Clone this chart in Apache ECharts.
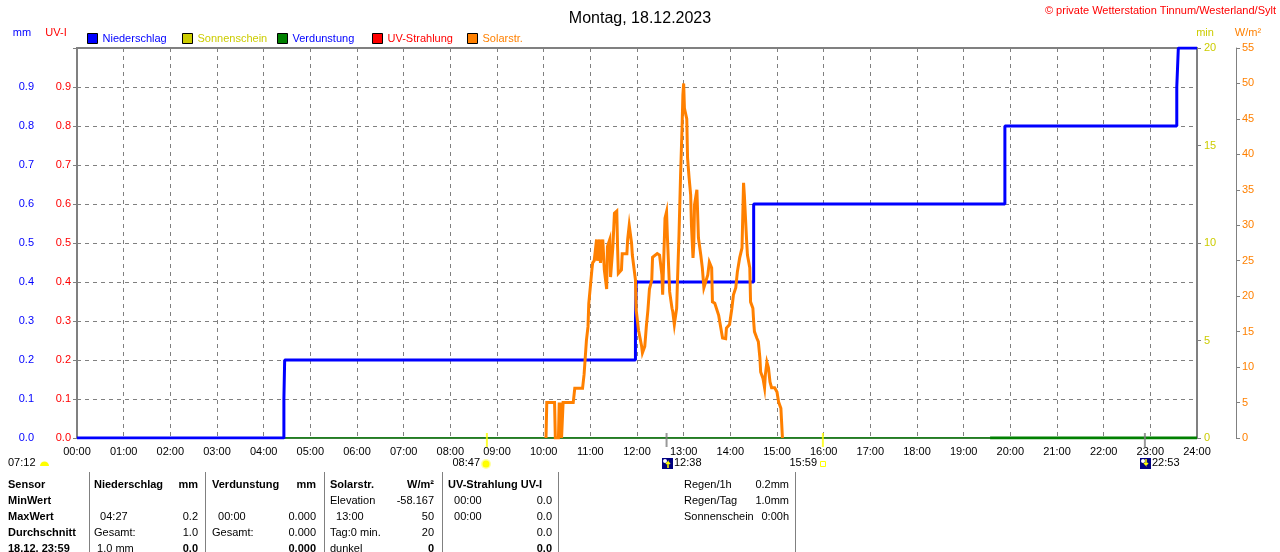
<!DOCTYPE html>
<html>
<head>
<meta charset="utf-8">
<title>Wetterstation Tinnum - 18.12.2023</title>
<script src="https://cdn.jsdelivr.net/npm/echarts@6/dist/echarts.min.js"></script>
<style>
  html, body { margin: 0; padding: 0; background: #fff; }
  #wetter { width: 1280px; height: 552px; }
</style>
</head>
<body>
<div id="wetter"></div>
<script>
var FONT = '"Liberation Sans", Arial, sans-serif';

// Niederschlag (mm), Zeit in Minuten ab 00:00
var rainTime  = [0, 266, 267, 718, 719, 870, 1193, 1414, 1416, 1440];
var rainValue = [0, 0.1, 0.2, 0.3, 0.4, 0.6, 0.8, 0.9, 1.0, 1.0];

// Verdunstung (mm)
var evapTime  = [0, 1440];
var evapValue = [0, 0];
var evapBoldTime  = [1174, 1440];
var evapBoldValue = [0, 0];

// Solarstrahlung (W/m²)
var solarTime = [
  603, 604, 614, 615, 619, 620, 621, 622, 623, 624,
  625, 638, 640, 650, 652, 655, 657, 658, 660, 662,
  663, 665, 668, 669, 672, 673, 676, 678, 681, 682,
  685, 686, 689, 691, 694, 695, 696, 700, 701, 707,
  708, 710, 713, 714, 718, 719, 722, 726, 727, 730,
  732, 734, 736, 739, 740, 746, 749, 752, 753, 756,
  758, 759, 762, 765, 766, 768, 771, 772, 774, 776,
  778, 779, 780, 781, 784, 785, 787, 789, 790, 792,
  793, 794, 797, 798, 799, 802, 804, 806, 808, 811,
  813, 816, 817, 820, 822, 825, 827, 830, 834, 835,
  839, 842, 844, 847, 849, 852, 855, 856, 857, 858,
  861, 862, 865, 866, 869, 870, 871, 874, 876, 878,
  879, 882, 884, 885, 887, 889, 891, 893, 897, 900,
  902, 905, 906, 907
];
var solarValue = [
  0, 5, 5, 0, 0, 5, 1.5, 5, 0, 0,
  5, 5, 7, 7, 9, 13.8, 15.7, 19, 21.3, 23.7,
  24.7, 25, 28, 25, 28, 24.7, 28, 23.7, 21, 27,
  28, 22.7, 27, 31.7, 32, 27, 23.2, 23.7, 26, 26,
  28, 30, 27.5, 25.8, 22.3, 18, 15.2, 12.9, 12, 12.9,
  15.7, 18, 21, 22.3, 25.5, 26, 25.8, 23, 20.2, 31,
  31.9, 28.6, 20.6, 18.3, 17.8, 16, 18.3, 22, 28.6, 37,
  44, 48.4, 50, 46.5, 45, 39.5, 36.7, 34.3, 30, 25.4,
  27.2, 32.9, 35, 35, 28.2, 25.8, 24, 21.2, 21.2, 23,
  24.8, 24, 19.2, 19, 18.8, 17.3, 16, 14.1, 14, 15.5,
  16, 18.3, 20.2, 21.2, 23.4, 25.4, 26.8, 31.4, 36, 34.3,
  27.7, 25.8, 24, 19.2, 18.3, 16.4, 15, 14.1, 13.6, 11.3,
  9.3, 8.4, 7.1, 8.9, 10.7, 9.9, 7.9, 7.1, 7.1, 6.5,
  5.1, 4.2, 4, 0
];

// Sonnen-/Mondzeiten unter der Achse
var sunriseText = '07:12';
var eventTime = [527, 758, 959, 1373];
var eventText = ['08:47', '12:38', '15:59', '22:53'];
var eventKind = ['sun', 'moonUp', 'sunSet', 'moonDown'];

var legendNames = ['Niederschlag', 'Sonnenschein', 'Verdunstung', 'UV-Strahlung', 'Solarstr.'];

// Tabelle unten
var tblSensor = ['Sensor', 'MinWert', 'MaxWert', 'Durchschnitt', '18.12. 23:59'];
var tblRain  = [['Niederschlag', 'mm'], ['', ''], ['  04:27', '0.2'], ['Gesamt:', '1.0'], [' 1.0 mm', '0.0']];
var tblEvap  = [['Verdunstung', 'mm'], ['', ''], ['  00:00', '0.000'], ['Gesamt:', '0.000'], ['', '0.000']];
var tblSolar = [['Solarstr.', 'W/m²'], ['Elevation', '-58.167'], ['  13:00', '50'], ['Tag:0 min.', '20'], ['dunkel', '0']];
var tblUv    = [['UV-Strahlung UV-I', ''], ['  00:00', '0.0'], ['  00:00', '0.0'], ['', '0.0'], ['', '0.0']];
var tblExtra = [['Regen/1h', '0.2mm'], ['Regen/Tag', '1.0mm'], ['Sonnenschein', '0:00h']];

function zip(a, b) { return a.map(function (v, i) { return [v, b[i]]; }); }
function pad(n) { return (n < 10 ? '0' : '') + n; }
function oneDec(v) { return v >= 1 ? '' : v.toFixed(1); }

var grey = '#808080';
var legendColors = ['#0000ff', '#cccc00', '#0000ff', '#ff0000', '#ff8000'];

var myChart = echarts.init(document.getElementById('wetter'));

var option = {
  animation: false,
  backgroundColor: '#fff',
  textStyle: { fontFamily: FONT },
  title: {
    text: 'Montag, 18.12.2023',
    left: 'center',
    top: 6,
    textStyle: { fontSize: 16, fontWeight: 'normal', color: '#000', fontFamily: FONT }
  },
  legend: legendNames.map(function (n, i) {
    return {
      data: [n],
      left: 87 + i * 95,
      top: 33,
      padding: 0,
      icon: 'rect',
      itemWidth: 10,
      itemHeight: 10,
      selectedMode: false,
      itemStyle: { borderColor: '#000', borderWidth: 1 },
      textStyle: { color: legendColors[i], fontSize: 11, fontFamily: FONT }
    };
  }),
  grid: {
    left: 77, right: 83, top: 48, bottom: 114,
    show: true, borderColor: grey, borderWidth: 2
  },
  xAxis: {
    type: 'value',
    min: 0, max: 1440, interval: 60,
    axisLine: { show: false },
    axisTick: { show: false },
    axisLabel: {
      color: '#000', fontSize: 11, fontFamily: FONT, margin: 8,
      showMinLabel: true, showMaxLabel: true,
      formatter: function (m) { return pad(m / 60) + ':00'; }
    },
    splitLine: { show: true, lineStyle: { color: grey, type: [4, 4] } }
  },
  yAxis: [
    { // mm
      type: 'value', position: 'left', offset: 37,
      min: 0, max: 1, interval: 0.1,
      axisLine: { show: true, lineStyle: { color: grey } },
      axisTick: { show: true, length: 4, lineStyle: { color: grey } },
      axisLabel: { color: '#0000ff', fontSize: 11, fontFamily: FONT, margin: 6, formatter: oneDec },
      splitLine: { show: false }
    },
    { // UV-I
      type: 'value', position: 'left', offset: 0,
      min: 0, max: 1, interval: 0.1,
      axisLine: { show: false },
      axisTick: { show: true, length: 4, lineStyle: { color: grey } },
      axisLabel: { color: '#ff0000', fontSize: 11, fontFamily: FONT, margin: 6, formatter: oneDec },
      splitLine: { show: true, lineStyle: { color: grey, type: [4, 4] } }
    },
    { // min
      type: 'value', position: 'right', offset: 0,
      min: 0, max: 20, interval: 5,
      axisLine: { show: false },
      axisTick: { show: true, length: 4, lineStyle: { color: grey } },
      axisLabel: { color: '#cccc00', fontSize: 11, fontFamily: FONT, margin: 7 },
      splitLine: { show: false }
    },
    { // W/m²
      type: 'value', position: 'right', offset: 39,
      min: 0, max: 55, interval: 5,
      axisLine: { show: true, lineStyle: { color: grey } },
      axisTick: { show: true, length: 4, lineStyle: { color: grey } },
      axisLabel: { color: '#ff8000', fontSize: 11, fontFamily: FONT, margin: 6 },
      splitLine: { show: false }
    }
  ],
  series: [
    {
      name: 'UV-Strahlung', type: 'line', yAxisIndex: 1, data: [],
      color: '#ff0000', symbol: 'none'
    },
    {
      name: 'Sonnenschein', type: 'line', yAxisIndex: 2, data: [],
      color: '#cccc00', symbol: 'none'
    },
    {
      name: 'Verdunstung', type: 'line', yAxisIndex: 0, data: zip(evapTime, evapValue),
      color: '#008000', symbol: 'none', lineStyle: { width: 1.5 }, z: 3
    },
    {
      name: 'Verdunstung', type: 'line', yAxisIndex: 0, data: zip(evapBoldTime, evapBoldValue),
      color: '#008000', symbol: 'none', lineStyle: { width: 3 }, z: 3
    },
    {
      name: 'Niederschlag', type: 'line', step: 'end', yAxisIndex: 0,
      data: zip(rainTime, rainValue),
      color: '#0000ff', symbol: 'none', lineStyle: { width: 3 }, z: 4
    },
    {
      name: 'Solarstr.', type: 'line', yAxisIndex: 3,
      data: zip(solarTime, solarValue),
      color: '#ff8000', symbol: 'none', lineStyle: { width: 3, join: 'miter' }, z: 5
    },
    {
      name: 'Ereignis', type: 'scatter', yAxisIndex: 0, silent: true, z: 6,
      symbol: 'rect', symbolSize: [2, 14], symbolOffset: [0, 2],
      data: eventTime.map(function (t, i) {
        var sun = eventKind[i] === 'sun' || eventKind[i] === 'sunSet';
        return { value: [t, 0], itemStyle: { color: sun ? '#ffff00' : grey } };
      })
    }
  ]
};

myChart.setOption(option);

// Beschriftungen, Symbole und Tabelle
function txt(x, y, s, color, align, bold, size) {
  return {
    type: 'text', x: x, y: y, silent: true,
    style: {
      text: s, fill: color || '#000',
      font: (bold ? 'bold ' : '') + (size || 11) + 'px ' + FONT,
      align: align || 'left', verticalAlign: 'middle'
    }
  };
}
function vline(x, y1, y2) {
  return { type: 'line', silent: true, shape: { x1: x + 0.5, y1: y1, x2: x + 0.5, y2: y2 }, style: { stroke: grey, lineWidth: 1 } };
}
function moonIcon(x, y, up) {
  return [
    { type: 'rect', silent: true, shape: { x: x, y: y, width: 11, height: 11 }, style: { fill: '#000080' } },
    { type: 'circle', silent: true, shape: { cx: x + 3, cy: y + 3, r: 2 }, style: { fill: '#ffffff' } },
    { type: 'polyline', silent: true,
      shape: { points: up ? [[x + 6, y + 10], [x + 6, y + 4], [x + 4, y + 6], [x + 6, y + 4], [x + 8, y + 6]]
                          : [[x + 6, y + 1], [x + 6, y + 7], [x + 4, y + 5], [x + 6, y + 7], [x + 8, y + 5]] },
      style: { stroke: '#ffff00', lineWidth: 1.5, fill: null } }
  ];
}

var g = [];
g.push(txt(1276, 11, '© private Wetterstation Tinnum/Westerland/Sylt', '#ff0000', 'right'));
g.push(txt(22, 33, 'mm', '#0000ff', 'center'));
g.push(txt(56, 33, 'UV-I', '#ff0000', 'center'));
g.push(txt(1205, 33, 'min', '#cccc00', 'center'));
g.push(txt(1248, 33, 'W/m²', '#ff8000', 'center'));

// Sonnenaufgang links
g.push(txt(8, 463, sunriseText));
g.push({ type: 'sector', silent: true, shape: { cx: 44.5, cy: 466, r: 4.5, r0: 0, startAngle: Math.PI, endAngle: Math.PI * 2 }, style: { fill: '#ffff00' } });

var rowY = 463;
eventTime.forEach(function (t, i) {
  var px = Math.round(myChart.convertToPixel({ xAxisIndex: 0 }, t));
  var k = eventKind[i];
  if (k === 'sun') {
    g.push({ type: 'circle', silent: true, shape: { cx: px - 1, cy: rowY + 1, r: 5 }, style: { fill: '#ffffa0' } });
    g.push({ type: 'circle', silent: true, shape: { cx: px - 1, cy: rowY + 1, r: 3.5 }, style: { fill: '#ffff00' } });
    g.push(txt(px - 7, rowY, eventText[i], '#000', 'right'));
  } else if (k === 'sunSet') {
    g.push({ type: 'rect', silent: true, shape: { x: px - 2.5, y: rowY - 1.5, width: 5, height: 5 }, style: { fill: '#fff', stroke: '#ffff00', lineWidth: 1 } });
    g.push(txt(px - 6, rowY, eventText[i], '#000', 'right'));
  } else {
    g = g.concat(moonIcon(px - 5, rowY - 5, k === 'moonUp'));
    g.push(txt(px + 7, rowY, eventText[i]));
  }
});

// Tabelle
var rows = [485, 501, 517, 533, 549];
tblSensor.forEach(function (s, r) { g.push(txt(8, rows[r], s, '#000', 'left', true)); });
[
  { cells: tblRain, l: 94, r: 198 },
  { cells: tblEvap, l: 212, r: 316 },
  { cells: tblSolar, l: 330, r: 434 },
  { cells: tblUv, l: 448, r: 552 }
].forEach(function (col) {
  col.cells.forEach(function (c, r) {
    if (c[0]) g.push(txt(col.l, rows[r], c[0], '#000', 'left', r === 0));
    if (c[1]) g.push(txt(col.r, rows[r], c[1], '#000', 'right', r === 0 || r === 4));
  });
});
tblExtra.forEach(function (c, r) {
  g.push(txt(684, rows[r], c[0]));
  g.push(txt(789, rows[r], c[1], '#000', 'right'));
});
[89, 205, 324, 442, 558, 795].forEach(function (x) { g.push(vline(x, 472, 552)); });

myChart.setOption({ graphic: g });
</script>
</body>
</html>
